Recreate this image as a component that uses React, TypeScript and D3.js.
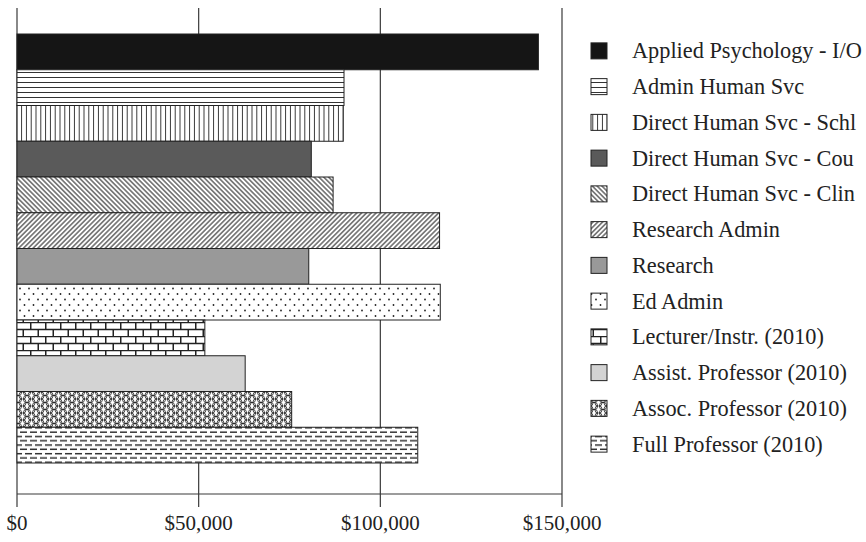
import * as d3 from "d3";

// Categories top to bottom, as shown in the chart and legend
const categories = [
	"Applied Psychology - I/O",
	"Admin Human Svc",
	"Direct Human Svc - Schl",
	"Direct Human Svc - Cou",
	"Direct Human Svc - Clin",
	"Research Admin",
	"Research",
	"Ed Admin",
	"Lecturer/Instr. (2010)",
	"Assist. Professor (2010)",
	"Assoc. Professor (2010)",
	"Full Professor (2010)",
];

// Salary values
const salaries = [
	143500, 90000, 89800, 81000, 87000, 116300, 80300, 116500, 51700, 62800,
	75600, 110300,
];

const xTicks = [0, 50000, 100000, 150000];

// fill for each category (solid colours or pattern ids)
const fills = [
	"#151515",
	"url(#p-hlines)",
	"url(#p-vlines)",
	"#5a5a5a",
	"url(#p-back)",
	"url(#p-fwd)",
	"#999999",
	"url(#p-dots)",
	"url(#p-brick)",
	"#d3d3d3",
	"url(#p-scale)",
	"url(#p-dash)",
];

const W = 866;
const H = 542;
const FONT = "'Liberation Serif', 'Times New Roman', serif";

const Patterns = () => (
	<defs>
		<pattern id="p-hlines" width={10} height={5} patternUnits="userSpaceOnUse">
			<rect width={10} height={5} fill="#fff" />
			<line x1={0} x2={10} y1={2.5} y2={2.5} stroke="#333" strokeWidth={1} />
		</pattern>
		<pattern id="p-vlines" width={4.8} height={10} patternUnits="userSpaceOnUse">
			<rect width={4.8} height={10} fill="#fff" />
			<line x1={2.4} x2={2.4} y1={0} y2={10} stroke="#333" strokeWidth={1} />
		</pattern>
		<pattern
			id="p-back"
			width={3.4}
			height={10}
			patternUnits="userSpaceOnUse"
			patternTransform="rotate(-45)"
		>
			<rect width={3.4} height={10} fill="#fff" />
			<line x1={1.7} x2={1.7} y1={0} y2={10} stroke="#1a1a1a" strokeWidth={1} />
		</pattern>
		<pattern
			id="p-fwd"
			width={3.4}
			height={10}
			patternUnits="userSpaceOnUse"
			patternTransform="rotate(45)"
		>
			<rect width={3.4} height={10} fill="#fff" />
			<line x1={1.7} x2={1.7} y1={0} y2={10} stroke="#1a1a1a" strokeWidth={1} />
		</pattern>
		<pattern id="p-dots" width={9} height={11} patternUnits="userSpaceOnUse">
			<rect width={9} height={11} fill="#fff" />
			<circle cx={2} cy={2.5} r={0.9} fill="#222" />
			<circle cx={6.5} cy={8} r={0.9} fill="#222" />
		</pattern>
		<pattern id="p-brick" width={15} height={14} patternUnits="userSpaceOnUse">
			<rect width={15} height={14} fill="#fff" />
			<path
				d="M0,0.5H15M0,7.5H15M0.75,0.5V7.5M8.25,7.5V14"
				stroke="#222"
				strokeWidth={1.5}
				fill="none"
			/>
		</pattern>
		<pattern id="p-scale" width={9} height={7} patternUnits="userSpaceOnUse">
			<rect width={9} height={7} fill="#fff" />
			{[
				[0, 0],
				[9, 0],
				[0, 7],
				[9, 7],
				[4.5, 3.5],
			].map(([cx, cy], i) => (
				<circle key={i} cx={cx} cy={cy} r={3.7} fill="none" stroke="#222" strokeWidth={0.8} />
			))}
		</pattern>
		<pattern id="p-dash" width={10} height={8.6} patternUnits="userSpaceOnUse">
			<rect width={10} height={8.6} fill="#fff" />
			<path
				d="M0,2.15H7M5,6.45H10M0,6.45H2"
				stroke="#2a2a2a"
				strokeWidth={1.2}
				fill="none"
			/>
		</pattern>
	</defs>
);

export default function App() {
	const x = d3.scaleLinear().domain([0, 150000]).range([17, 562]);
	const y = d3.scaleBand<string>().domain(categories).range([34, 463]).padding(0);

	const gridTop = 8;
	const axisY = 494;
	const tickBottom = 507;

	const legendIconX = 591;
	const legendTextX = 632;
	const iconSize = 16;

	return (
		<svg
			width={W}
			height={H}
			style={{ position: "absolute", left: 0, top: 0, background: "#fff" }}
			fontFamily={FONT}
		>
			<Patterns />

			{/* vertical grid lines, which also act as tick marks */}
			{xTicks.map((t) => (
				<line
					key={t}
					x1={x(t)}
					x2={x(t)}
					y1={gridTop}
					y2={tickBottom}
					stroke="#3a3a3a"
					strokeWidth={1.2}
				/>
			))}
			<line x1={x(0)} x2={x(150000)} y1={axisY} y2={axisY} stroke="#3a3a3a" strokeWidth={1.2} />

			{/* bars */}
			{categories.map((c, i) => (
				<rect
					key={c}
					x={x(0)}
					y={y(c)}
					width={x(salaries[i]) - x(0)}
					height={y.bandwidth()}
					fill={fills[i]}
					stroke="#222"
					strokeWidth={1}
				/>
			))}

			{/* tick labels */}
			{xTicks.map((t) => (
				<text
					key={t}
					x={x(t)}
					y={530}
					textAnchor="middle"
					fontSize={21}
					fill="#222"
				>
					{d3.format("$,")(t)}
				</text>
			))}

			{/* legend */}
			{categories.map((c, i) => {
				const cy = (y(c) as number) + y.bandwidth() / 2 - 1;
				return (
					<g key={c}>
						<rect
							x={legendIconX}
							y={cy - iconSize / 2}
							width={iconSize}
							height={iconSize}
							fill={fills[i]}
							stroke="#222"
							strokeWidth={1}
						/>
						<text x={legendTextX} y={cy + 7.5} fontSize={22.3} fill="#222">
							{c}
						</text>
					</g>
				);
			})}
		</svg>
	);
}
